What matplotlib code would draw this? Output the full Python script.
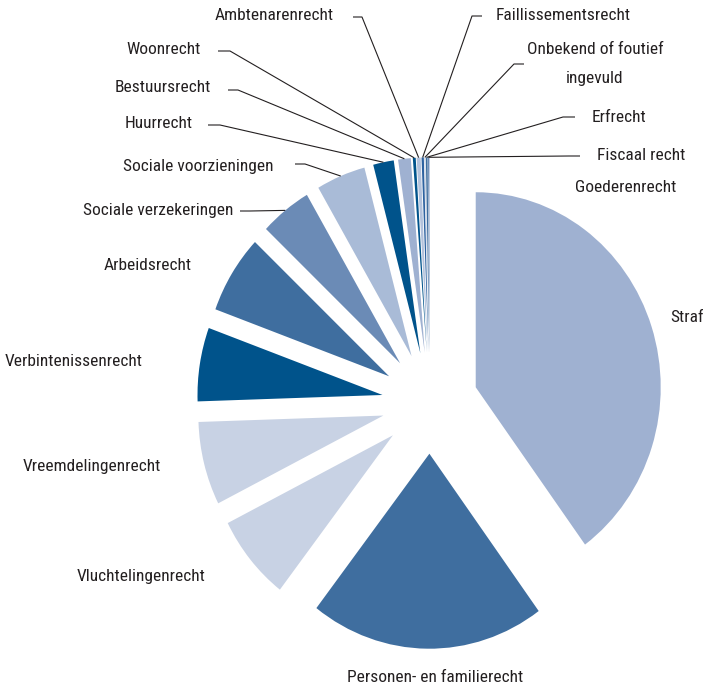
import numpy as np
import matplotlib
matplotlib.use("Agg")
import matplotlib.pyplot as plt
from matplotlib import font_manager as fm

# smal lettertype zoeken, anders Liberation Sans
def kies_font():
    voorkeur = ['Liberation Sans Narrow', 'Roboto Condensed', 'DejaVu Sans Condensed', 'Open Sans Condensed']
    for naam in voorkeur:
        for f in fm.fontManager.ttflist:
            if f.name == naam and f.style == 'normal' and f.weight in (400, 'normal', 'regular'):
                return fm.FontProperties(fname=f.fname), True
    for f in fm.fontManager.ttflist:
        if f.stretch in ('condensed', 'semi-condensed') and f.style == 'normal' \
                and f.weight in (400, 'normal', 'regular'):
            return fm.FontProperties(fname=f.fname), True
    return fm.FontProperties(family='Liberation Sans'), False

FONT, SMAL = kies_font()
FS = 12.5 if SMAL else 11

# rechtsgebieden, met de klok mee vanaf boven
categorieen = ['Straf', 'Personen- en familierecht', 'Vluchtelingenrecht', 'Vreemdelingenrecht',
               'Verbintenissenrecht', 'Arbeidsrecht', 'Sociale verzekeringen', 'Sociale voorzieningen',
               'Huurrecht', 'Bestuursrecht', 'Woonrecht', 'Ambtenarenrecht', 'Faillissementsrecht',
               'Onbekend of foutief\n\ningevuld', 'Erfrecht', 'Fiscaal recht', 'Goederenrecht']
aandeel = [39.9, 20.5, 7.1, 6.9, 6.1, 6.5, 4.5, 4.3, 1.8, 1.1, 0.25, 0.35, 0.2, 0.1, 0.15, 0.1, 0.05]
kleuren = ['#9fb1d1', '#3f6e9f', '#c8d2e4', '#c8d2e4', '#00538b', '#3f6e9f', '#6b8bb6', '#a9bbd7',
           '#00538b', '#9fb1d1', '#00538b', '#b3c2dc', '#2e62a0', '#c8d2e4', '#3f6e9f', '#6b8bb6', '#9fb1d1']

# layout in pixels
W, H = 703, 687
CX, CY = 430, 403
RX, RY = 185, 195
EXPL = 0.26

def naar_data(px, py):
    return (px - CX) / RX, (CY - py) / RY

# label: (tekst-x, tekst-y, uitlijning, elleboog-x, einde-horizontaal-x, lijn-y) ; None = geen lijn
label_pos = [
    (670, 317, 'left', None, None, None),
    (435, 677, 'center', None, None, None),
    (141, 577, 'center', None, None, None),
    (92, 467, 'center', None, None, None),
    (74, 362, 'center', None, None, None),
    (148, 265, 'center', None, None, None),
    (233, 211, 'right', 250, 240, 211),
    (274, 166, 'right', 305, 295, 164),
    (193, 124, 'right', 220, 208, 125),
    (211, 88, 'right', 238, 228, 90),
    (201, 49, 'right', 230, 218, 51),
    (334, 16, 'right', 362, 353, 17),
    (496, 16, 'left', 472, 482, 16),
    (595, 64, 'center', 514, 524, 64),
    (592, 118, 'left', 563, 575, 117),
    (597, 156, 'left', 569, 580, 156),
    (575, 188, 'left', None, None, None),
]

fig = plt.figure(figsize=(W / 100, H / 100), dpi=100)
ax = fig.add_axes([0, 0, 1, 1])

ax.pie(aandeel, colors=kleuren, startangle=90, counterclock=False,
       explode=[EXPL] * len(aandeel), radius=1, center=(0, 0),
       wedgeprops=dict(linewidth=0))
ax.set_aspect('auto')
ax.set_xlim(naar_data(0, 0)[0], naar_data(W, 0)[0])
ax.set_ylim(naar_data(0, H)[1], naar_data(0, 0)[1])
ax.axis('off')

totaal = sum(aandeel)
hoek = 90.0
for naam, waarde, pos in zip(categorieen, aandeel, label_pos):
    breedte = 360.0 * waarde / totaal
    midden = np.deg2rad(hoek - breedte / 2)
    hoek -= breedte
    tx, ty, ha, elb, hend, ly = pos
    x, y = naar_data(tx, ty)
    ax.text(x, y, naam, ha=ha, va='center', fontproperties=FONT, fontsize=FS,
            color='#231f20', linespacing=1.0, multialignment='center')
    if elb is not None:
        ex, ey = naar_data(elb, ly)
        hx, _ = naar_data(hend, ly)
        rx = (1 + EXPL) * np.cos(midden)
        ry = (1 + EXPL) * np.sin(midden)
        ax.plot([hx, ex, rx], [ey, ey, ry], color='#231f20', lw=0.8, solid_capstyle='butt')

fig.savefig('out.png', dpi=100)
